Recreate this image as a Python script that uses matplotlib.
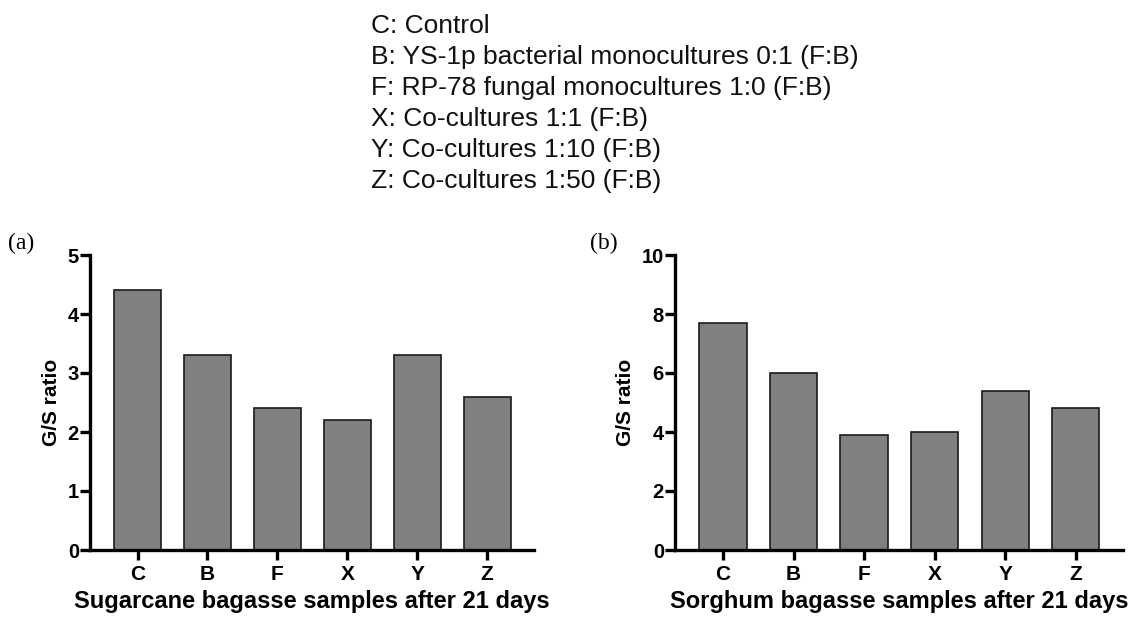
import matplotlib
matplotlib.use('Agg')
import matplotlib.pyplot as plt

plt.rcParams['font.family'] = ['Liberation Sans', 'DejaVu Sans']

samples = ['C', 'B', 'F', 'X', 'Y', 'Z']
sugarcane_gs = [4.4, 3.3, 2.4, 2.2, 3.3, 2.6]
sorghum_gs = [7.7, 6.0, 3.9, 4.0, 5.4, 4.8]

legend_lines = [
    'C: Control',
    'B: YS-1p bacterial monocultures 0:1 (F:B)',
    'F: RP-78 fungal monocultures 1:0 (F:B)',
    'X: Co-cultures 1:1 (F:B)',
    'Y: Co-cultures 1:10 (F:B)',
    'Z: Co-cultures 1:50 (F:B)',
]

W, H = 1135, 623
fig = plt.figure(figsize=(W / 100, H / 100), dpi=100)

def px_axes(x0, x1, y0, y1):
    # pixel box (top-left origin) -> figure fraction
    return fig.add_axes([x0 / W, (H - y1) / H, (x1 - x0) / W, (y1 - y0) / H])

ax_a = px_axes(90, 534, 255, 550)
ax_b = px_axes(675, 1123, 255, 550)

panels = [
    (ax_a, sugarcane_gs, 5, [0, 1, 2, 3, 4, 5], 'Sugarcane bagasse samples after 21 days'),
    (ax_b, sorghum_gs, 10, [0, 2, 4, 6, 8, 10], 'Sorghum bagasse samples after 21 days'),
]

for ax, vals, ymax, yt, xlab in panels:
    pos = range(len(samples))
    ax.bar(pos, vals, width=0.67, color='#808080', edgecolor='#1a1a1a', linewidth=1.2)
    ax.set_xlim(-0.68, 5.67)
    ax.set_ylim(0, ymax)
    ax.set_yticks(yt)
    ax.set_xticks(list(pos))
    ax.set_xticklabels(samples)
    for s in ['top', 'right']:
        ax.spines[s].set_visible(False)
    for s in ['left', 'bottom']:
        ax.spines[s].set_linewidth(2.4)
        ax.spines[s].set_color('black')
    ax.tick_params(axis='both', width=2.4, length=7, direction='out', color='black')
    ax.tick_params(axis='y', pad=1, labelsize=14.5)
    ax.tick_params(axis='x', pad=4, labelsize=15)
    for t in ax.get_xticklabels() + ax.get_yticklabels():
        t.set_fontweight('bold')
    ax.set_ylabel('G/S ratio', fontsize=15, fontweight='bold', labelpad=5)
    ax.set_xlabel(xlab, fontsize=17, fontweight='bold', labelpad=4)

fig.text(8 / W, 1 - 243 / H, '(a)', family=['Liberation Serif', 'DejaVu Serif'],
         fontsize=17, va='center', ha='left')
fig.text(590 / W, 1 - 243 / H, '(b)', family=['Liberation Serif', 'DejaVu Serif'],
         fontsize=17, va='center', ha='left')

for i, line in enumerate(legend_lines):
    fig.text(371 / W, 1 - (26 + 31 * i) / H, line, fontsize=19, color='#111111',
             va='center', ha='left')

fig.savefig('out.png', dpi=100)
